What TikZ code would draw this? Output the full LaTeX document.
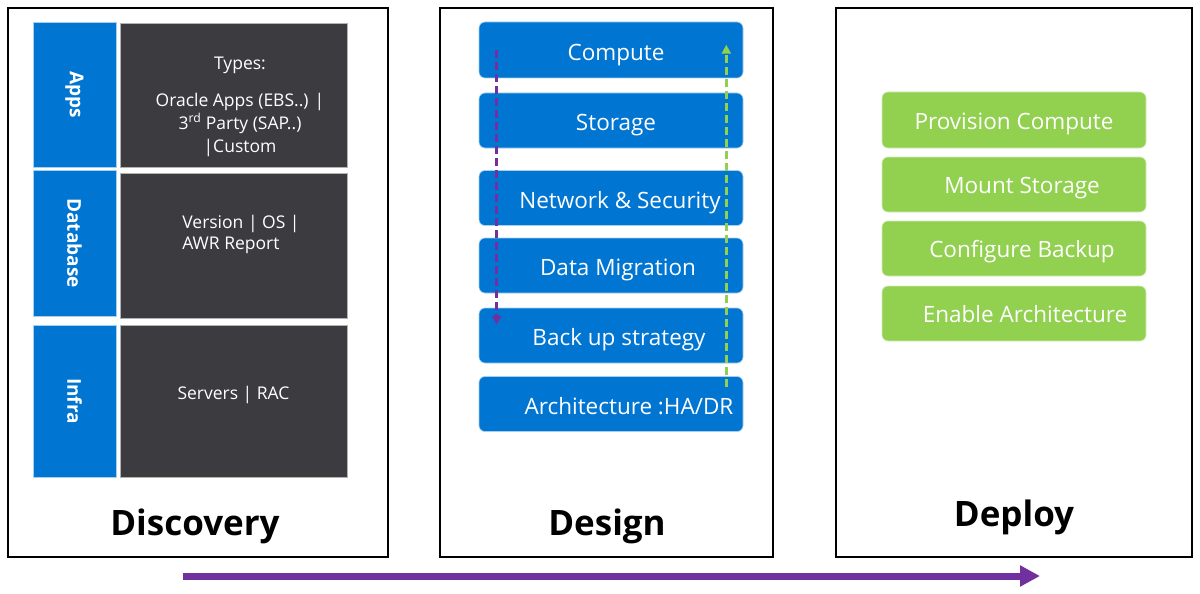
\documentclass[tikz,border=0pt]{standalone}
\usepackage{fontspec}
\setmainfont{Open Sans}
\usetikzlibrary{arrows.meta}
\definecolor{msblue}{RGB}{0,117,210}
\definecolor{darkbox}{RGB}{60,59,64}
\definecolor{leafgreen}{RGB}{146,208,80}
\definecolor{flowpurple}{RGB}{112,48,160}

\begin{document}
\begin{tikzpicture}[x=1pt,y=-1pt,
  panel/.style={draw=black,line width=2pt,fill=white,minimum width=#1,minimum height=549pt,inner sep=0pt},
  phase/.style={font=\fontsize{35}{40}\selectfont\bfseries},
  sidetab/.style={fill=msblue,draw=msblue!35,line width=0.6pt,minimum height=83pt,inner sep=0pt,
    text=white,rotate=-90,font=\fontsize{19}{22}\selectfont\bfseries},
  infobox/.style={fill=darkbox,draw=gray!60,line width=0.6pt,minimum width=227pt,inner sep=0pt},
  infotext/.style={text=white,align=center,inner sep=0pt,font=\fontsize{17.5}{23}\selectfont},
  designbox/.style={fill=msblue,draw=msblue!35,line width=0.6pt,rounded corners=6pt,minimum width=264pt,
    minimum height=55pt,inner sep=0pt,text=white,text height=24pt,text depth=4pt,
    font=\fontsize{22.5}{26}\selectfont},
  deploybox/.style={designbox,fill=leafgreen,draw=leafgreen!40,text height=23pt,text depth=5pt},
  flowdash/.style={dashed,dash pattern=on 8pt off 4pt,line width=2.5pt,-{Triangle[length=9pt,width=9pt]}}]
\useasboundingbox (0,0) rectangle (1200,594);

% panels
\node[panel=380pt] (discovery) at (198,282.5) {};
\node[panel=333pt] (design) at (606.5,282.5) {};
\node[panel=356pt] (deploy) at (1014,282.5) {};
\node[phase] (tdisc) at (195,526) {Discovery};
\node[phase] (tdesign) at (607,526) {Design};
\node[phase] (tdeploy) at (1014,517) {Deploy};

% discovery
\node[sidetab,minimum width=145pt] (apps) at (74.5,94.5) {Apps};
\node[sidetab,minimum width=146pt] (db) at (74.5,243) {Database};
\node[sidetab,minimum width=152pt] (infra) at (74.5,401) {Infra};
\node[infobox,minimum height=144pt] (appsinfo) at (233.5,95) {};
\node[infobox,minimum height=145pt] (dbinfo) at (233.5,245.5) {};
\node[infobox,minimum height=152pt] (infrainfo) at (233.5,401) {};
\node[infotext,anchor=north] (appstext) at (240,56.5)
  {Types:\\[14pt]Oracle Apps (EBS..) |\\3\textsuperscript{rd} Party (SAP..)\\|Custom};
\node[infotext,anchor=north,align=left,font=\fontsize{17.5}{21}\selectfont] (dbtext) at (241,215)
  {Version | OS |\\AWR Report};
\node[infotext] (infratext) at (233.5,395) {Servers | RAC};

% design
\node[designbox,minimum height=56pt] (compute) at (611,50) {\hspace*{10pt}Compute};
\node[designbox] (storage) at (611,120.5) {\hspace*{10pt}Storage};
\node[designbox] (network) at (611,198) {\hspace*{18pt}Network \& Security};
\node[designbox] (migration) at (611,265.5) {\hspace*{14pt}Data Migration};
\node[designbox] (backup) at (611,335.5) {\hspace*{16pt}Back up strategy};
\node[designbox] (archi) at (611,404) {\hspace*{36pt}Architecture :HA/DR};

\coordinate (downtop) at ([xshift=18pt]compute.west);
\coordinate (downend) at ([xshift=18pt,yshift=-17pt]backup.north west);
\coordinate (uptop) at ([xshift=-17pt,yshift=-23pt]compute.north east);
\coordinate (upstart) at ([xshift=-17pt,yshift=-11pt]archi.north east);
\draw[flowdash,flowpurple] (downtop) -- (downend);
\draw[flowdash,leafgreen] (upstart) -- (uptop);

% deploy
\node[deploybox,minimum height=56pt] (provision) at (1014,120) {Provision Compute};
\node[deploybox] (mount) at (1014,184.5) {\hspace*{16pt}Mount Storage};
\node[deploybox] (backupcfg) at (1014,248.5) {\hspace*{16pt}Configure Backup};
\node[deploybox] (enable) at (1014,313.5) {\hspace*{22pt}Enable Architecture};

% overall flow
\coordinate (flowstart) at (183,576);
\coordinate (flowend) at (1040,576);
\draw[flowpurple,line width=7pt,-{Triangle[length=20pt,width=20pt]}] (flowstart) -- (flowend);
\end{tikzpicture}
\end{document}
